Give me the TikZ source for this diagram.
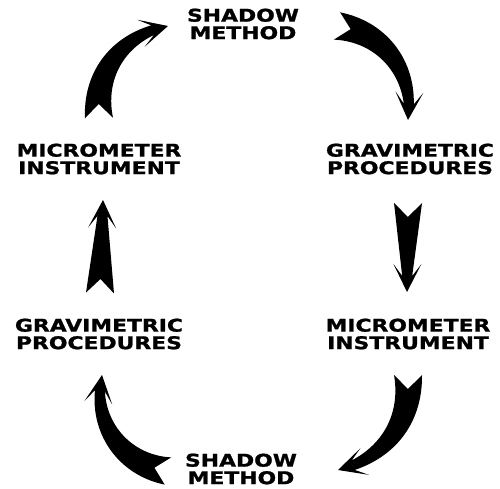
\documentclass[tikz,border=0pt]{standalone}
\usepackage{fontspec}
\usepackage{tikz}
\usetikzlibrary{calc}
\newfontfamily\labelfont[FakeStretch=1.25,FakeBold=1.2]{DejaVu Sans Bold}
\definecolor{ink}{RGB}{0,0,0}
\tikzset{
  lbl/.style={align=center,text=ink,inner sep=0pt,
    font=\labelfont\fontsize{17.5}{17.5}\selectfont},
  swoosh/.style={fill=ink},
}
% tapered arrow with swallow tail: tail, head, bend
\newcommand{\notchd}{14pt}
\newcommand{\tailw}{14pt}
\newcommand{\neckd}{16pt}
\newcommand{\neckw}{5pt}
\newcommand{\barbd}{28pt}
\newcommand{\barbw}{14pt}
\newcommand{\swooshto}[3]{%
  \pgfmathsetmacro\bA{#3+90}%
  \pgfmathsetmacro\bB{#3-90}%
  \pgfmathsetmacro\bC{-#3}%
  \coordinate (#1-n) at ($(#1)!\notchd!#3:(#2)$);
  \coordinate (#1-l) at ($(#1)!\tailw!\bA:(#2)$);
  \coordinate (#1-r) at ($(#1)!\tailw!\bB:(#2)$);
  \coordinate (#1-j) at ($(#2)!\neckd!\bC:(#1)$);
  \coordinate (#1-b) at ($(#2)!\barbd!\bC:(#1)$);
  \fill[swoosh] (#1-l) to[bend left=#3] ($(#1-j)!\neckw!90:(#2)$)
    -- ($(#1-b)!\barbw!90:(#2)$) -- (#2) -- ($(#1-b)!\barbw!-90:(#2)$)
    -- ($(#1-j)!\neckw!-90:(#2)$) to[bend right=#3] (#1-r) -- (#1-n) -- cycle;
}

\begin{document}
\begin{tikzpicture}[x=1pt,y=1pt]
\useasboundingbox (0,0) rectangle (500,488);
% labels
\node[lbl] (shadowtop) at (243,464) {SHADOW\\METHOD};
\node[lbl] (microL) at (99,329) {MICROMETER\\INSTRUMENT};
\node[lbl] (gravR) at (410,329) {GRAVIMETRIC\\PROCEDURES};
\node[lbl] (gravL) at (99,154) {GRAVIMETRIC\\PROCEDURES};
\node[lbl] (microR) at (408,154) {MICROMETER\\INSTRUMENT};
\node[lbl] (shadowbot) at (241,19) {SHADOW\\METHOD};
% arrow ends
\coordinate (a1) at (99,370);  \coordinate (a1h) at (168,462);
\coordinate (a2) at (337,462); \coordinate (a2h) at (408,368);
\coordinate (a3) at (408,285); \coordinate (a3h) at (407,196);
\coordinate (a4) at (408,113); \coordinate (a4h) at (338,18);
\coordinate (a5) at (168,17);  \coordinate (a5h) at (102,113);
\coordinate (a6) at (100,195); \coordinate (a6h) at (103,288);
% cycle
\swooshto{a1}{a1h}{38}
\swooshto{a2}{a2h}{40}
\swooshto{a3}{a3h}{0}
\swooshto{a4}{a4h}{36}
\swooshto{a5}{a5h}{42}
\swooshto{a6}{a6h}{0}
\end{tikzpicture}
\end{document}
